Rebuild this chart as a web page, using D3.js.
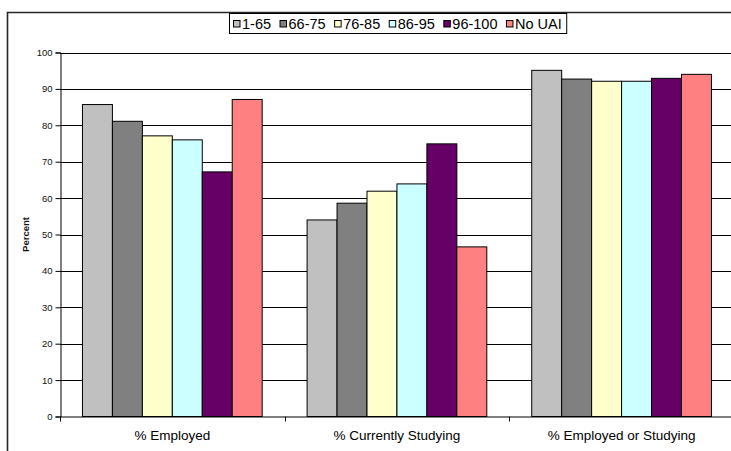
<!DOCTYPE html>
<html>
<head>
<meta charset="utf-8">
<script src="https://cdn.jsdelivr.net/npm/d3@7"></script>
<style>
html,body{margin:0;padding:0;background:#fff;}
svg{display:block;font-family:"Liberation Sans",Arial,sans-serif;}
</style>
</head>
<body>
<svg id="chart" width="731" height="451"></svg>
<script>
const categories = ["% Employed", "% Currently Studying", "% Employed or Studying"];
const seriesNames = ["1-65", "66-75", "76-85", "86-95", "96-100", "No UAI"];
const seriesColors = ["#C0C0C0", "#808080", "#FFFFCC", "#CCFFFF", "#660066", "#FF8080"];
const values_1_65   = [85.7, 54.0, 95.1];
const values_66_75  = [81.1, 58.6, 92.7];
const values_76_85  = [77.1, 61.9, 92.1];
const values_86_95  = [76.0, 63.9, 92.1];
const values_96_100 = [67.2, 74.9, 92.9];
const values_noUAI  = [87.1, 46.6, 94.0];
const yTicks = [0, 10, 20, 30, 40, 50, 60, 70, 80, 90, 100];
const yTitle = "Percent";

const seriesValues = [values_1_65, values_66_75, values_76_85, values_86_95, values_96_100, values_noUAI];

(function () {
const svg = d3.select("#chart");

// outer chart border (left & top visible)
svg.append("path")
  .attr("d", "M7.5,451 L7.5,12.5 L731,12.5")
  .attr("fill", "none").attr("stroke", "#262626").attr("stroke-width", 1.6);

const pLeft = 60, pRight = 733.9, pTop = 52.5, pBottom = 416.5;
const x0 = d3.scaleBand().domain(categories).range([pLeft, pRight]).padding(0);
const x1 = d3.scaleBand().domain(seriesNames).range([0, x0.bandwidth()])
  .paddingInner(0).paddingOuter(0.75);
const y = d3.scaleLinear().domain([0, 100]).range([pBottom, pTop]);

// gridlines
svg.append("g").selectAll("line").data(yTicks.filter(d => d > 0)).join("line")
  .attr("x1", pLeft).attr("x2", 731)
  .attr("y1", d => Math.round(y(d)) + 0.5).attr("y2", d => Math.round(y(d)) + 0.5)
  .attr("stroke", "#000").attr("stroke-width", 1);

// bars
const groups = svg.append("g").selectAll("g").data(categories).join("g")
  .attr("transform", c => `translate(${x0(c)},0)`);
groups.selectAll("rect")
  .data((c, ci) => seriesNames.map((s, si) => ({s, si, v: seriesValues[si][ci]})))
  .join("rect")
  .attr("x", d => x1(d.s))
  .attr("y", d => y(d.v))
  .attr("width", x1.bandwidth())
  .attr("height", d => pBottom - y(d.v))
  .attr("fill", d => seriesColors[d.si])
  .attr("stroke", "#000").attr("stroke-width", 1);

// y axis
const yAxis = d3.axisLeft(y).tickValues(yTicks).tickSize(5).tickPadding(3).tickFormat(d3.format("d"));
const gy = svg.append("g").attr("transform", `translate(${pLeft + 0.5},0)`).call(yAxis);
gy.select(".domain").attr("stroke", "#000");
gy.selectAll(".tick line").attr("stroke", "#000");
gy.selectAll(".tick text").attr("font-size", "9.5px").attr("fill", "#111")
  .attr("font-family", "Liberation Sans, Arial, sans-serif");

// x axis
const xAxis = d3.axisBottom(x0).tickSize(0).tickPadding(14);
const gx = svg.append("g").attr("transform", `translate(0,${pBottom})`).call(xAxis);
gx.select(".domain").remove();
gx.append("line").attr("x1", pLeft).attr("x2", 731).attr("y1", 0.5).attr("y2", 0.5).attr("stroke", "#000");
gx.selectAll(".tick text").attr("font-size", "13.5px").attr("fill", "#000")
  .attr("font-family", "Liberation Sans, Arial, sans-serif");
// category boundary ticks
gx.append("g").selectAll("line").data(categories).join("line")
  .attr("x1", c => Math.round(x0(c)) + 0.5).attr("x2", c => Math.round(x0(c)) + 0.5)
  .attr("y1", 0).attr("y2", 5).attr("stroke", "#000");

// y title
svg.append("text")
  .attr("transform", `translate(29,${(pTop + pBottom) / 2}) rotate(-90)`)
  .attr("text-anchor", "middle")
  .attr("font-size", "9.5px").attr("font-weight", "bold").attr("fill", "#111")
  .text(yTitle);

// legend
const legend = svg.append("g");
const legBox = legend.append("rect")
  .attr("fill", "#fff").attr("stroke", "#000").attr("stroke-width", 1);
let lx = 233.5;
const ly = 24;
seriesNames.forEach((name, i) => {
  legend.append("rect").attr("x", lx).attr("y", ly - 3.5).attr("width", 6.5).attr("height", 6.5)
    .attr("fill", seriesColors[i]).attr("stroke", "#000").attr("stroke-width", 1);
  const t = legend.append("text").attr("x", lx + 8.5).attr("y", ly + 5)
    .attr("font-size", "14.5px").attr("fill", "#000").text(name);
  lx += 8.5 + t.node().getComputedTextLength() + 9;
});
legBox.attr("x", 229.5).attr("y", 13.5).attr("width", lx - 229.5 - 4).attr("height", 20);
})();
</script>
</body>
</html>
